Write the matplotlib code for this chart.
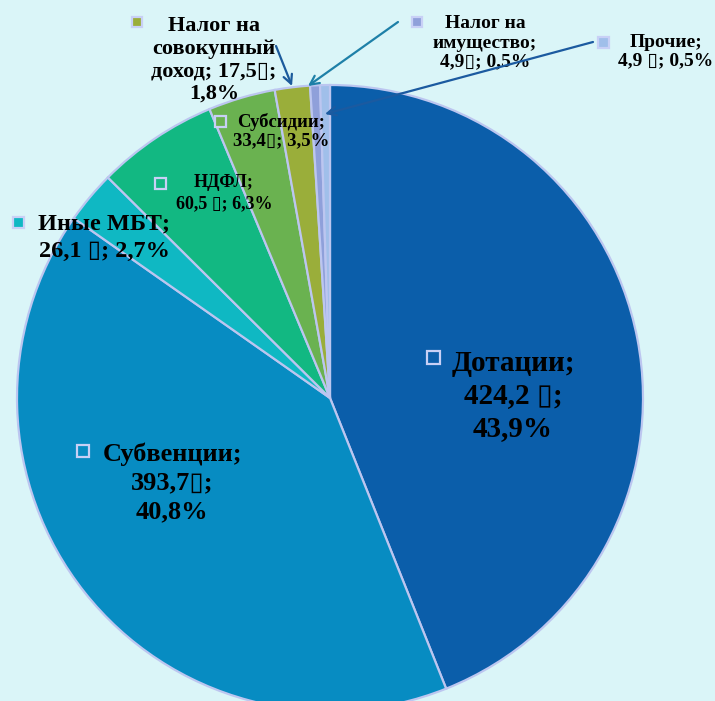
import matplotlib
matplotlib.use("Agg")
import matplotlib.pyplot as plt
from matplotlib.patches import Rectangle

# ---- data ----
categories = ['Дотации', 'Субвенции', 'Иные МБТ', 'НДФЛ', 'Субсидии',
              'Налог на совокупный доход', 'Налог на имущество', 'Прочие']
values = [424.2, 393.7, 26.1, 60.5, 33.4, 17.5, 4.9, 4.9]
percents = [43.9, 40.8, 2.7, 6.3, 3.5, 1.8, 0.5, 0.5]
unit = '\u25AF'  # currency sign rendered as a box in the original

colors = ['#0B5EAA', '#078CC2', '#0FB8C3', '#12B882', '#6AB250',
          '#9AAE3A', '#8FA0DA', '#A0BFEA']

# label text templates (line breaks as in the original)
templates = [
    '{n};\n{v} {u};\n{p}%',
    '{n};\n{v}{u};\n{p}%',
    '{n};\n{v} {u}; {p}%',
    '{n};\n{v} {u}; {p}%',
    '{n};\n{v}{u}; {p}%',
    'Налог на\nсовокупный\nдоход; {v}{u};\n{p}%',
    'Налог на\nимущество;\n{v}{u}; {p}%',
    '{n};\n{v} {u}; {p}%',
]

W, H = 715, 701
fig = plt.figure(figsize=(W / 100, H / 100), dpi=100)
fig.patch.set_facecolor('#DAF5F8')
ax = fig.add_axes([0, 0, 1, 1])
ax.set_facecolor('#DAF5F8')

def Y(y):
    return H - y

ax.pie(values, colors=colors, startangle=90, counterclock=False,
       center=(330, Y(398)), radius=313,
       wedgeprops=dict(edgecolor='#BCC6F0', linewidth=1.6))
ax.set_xlim(0, W)
ax.set_ylim(0, H)
ax.set_aspect('equal')
ax.axis('off')

# label layout: (text center x, y), marker center (x, y), fontsize, linespacing, marker size
layout = [
    ((513, 396), (433, 357), 21, 1.27, 13),
    ((172, 483), (83, 451), 19, 1.33, 12),
    ((104, 238), (18, 222), 17.5, 1.4, 11),
    ((224, 193), (160, 183), 13, 1.27, 11),
    ((281, 131), (220, 121), 13.5, 1.12, 11),
    ((214, 60), (137, 22), 16, 1.17, 10),
    ((485, 43), (417, 22), 14, 1.17, 10),
    ((666, 52), (603, 42), 14, 1.1, 11),
]

fam = ['Liberation Serif', 'DejaVu Serif']

def fmt(x):
    return f'{x:.1f}'.replace('.', ',')

for i, (name, v, p) in enumerate(zip(categories, values, percents)):
    (tx, ty), (mx, my), fs, ls, ms = layout[i]
    txt = templates[i].format(n=name, v=fmt(v), p=fmt(p), u=unit)
    ax.text(tx, Y(ty), txt, ha='center', va='center', multialignment='center',
            fontsize=fs, fontweight='bold', family=fam, color='black',
            linespacing=ls, zorder=5)
    ax.add_patch(Rectangle((mx - ms / 2, Y(my) - ms / 2), ms, ms,
                           facecolor=colors[i], edgecolor='#C8D0F6',
                           linewidth=1.6, zorder=5))

# leader arrows
arrows = [
    ((276, 46), (292, 86), '#1B5A9C'),
    ((398, 22), (308, 86), '#1E80A8'),
    ((593, 42), (325, 114), '#1B5AA0'),
]
for (x0, y0), (x1, y1), c in arrows:
    ax.annotate('', xy=(x1, Y(y1)), xytext=(x0, Y(y0)),
                arrowprops=dict(arrowstyle='->', color=c, lw=1.6,
                                mutation_scale=16, shrinkA=0, shrinkB=0),
                zorder=6)

fig.savefig('out.png', dpi=100, facecolor=fig.get_facecolor())
